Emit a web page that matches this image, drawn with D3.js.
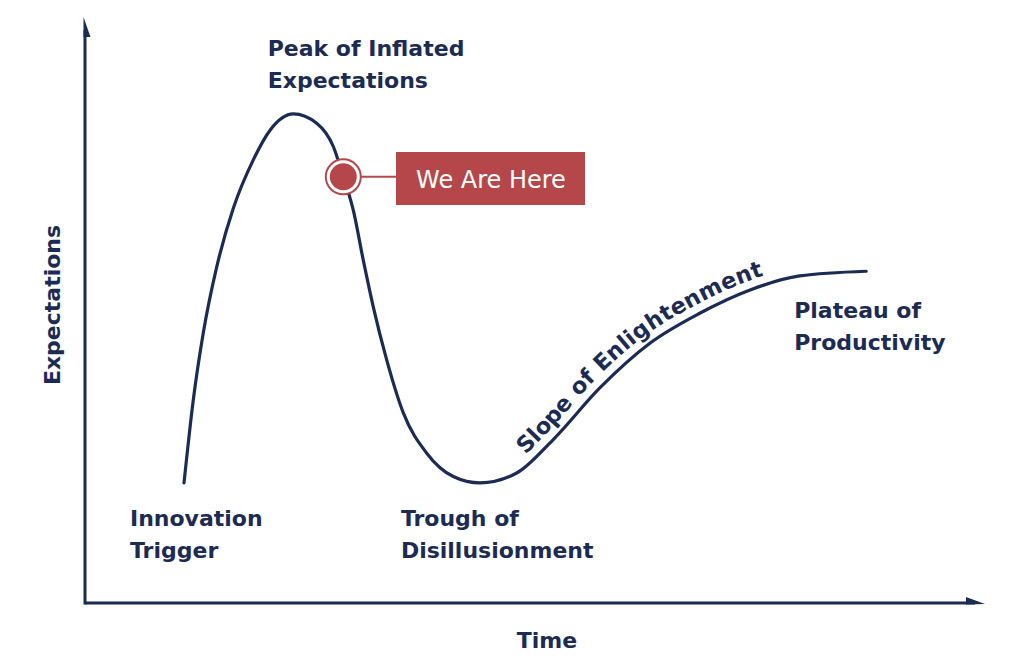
<!DOCTYPE html>
<html><head><meta charset="utf-8">
<script src="https://cdn.jsdelivr.net/npm/d3@7"></script>
<style>
html,body{margin:0;padding:0;background:#fff;}
svg{display:block;}
.lbl{font-family:"DejaVu Sans", sans-serif;font-weight:bold;fill:#1c2b53;}
</style></head><body>
<script>
// Hype-cycle curve: time (0-100) vs expectations (0-100)
const curveTime = [11.0, 12.03, 13.14, 14.63, 16.48, 18.70, 20.56, 23.14, 25.74, 27.59, 28.70, 29.81, 30.92, 32.03, 33.52, 35.37, 37.97, 40.92, 43.89, 47.97, 52.0, 57.2, 62.8, 68.3, 73.9, 79.4, 86.8];
const curveExp  = [20.6, 34.8, 46.3, 57.6, 67.7, 76.0, 81.1, 83.9, 82.3, 78.3, 73.1, 67.4, 58.8, 50.8, 41.7, 32.6, 25.7, 21.7, 20.6, 22.3, 28.0, 36.9, 44.6, 49.7, 53.7, 56.1, 56.9];
const markerTime = 28.7, markerExp = 73.1;
const markerLabel = "We Are Here";
const phaseLabels = [
  {lines:["Peak of Inflated","Expectations"], t:20.3, e:93.8},
  {lines:["Innovation","Trigger"], t:5.0, e:13.2},
  {lines:["Trough of","Disillusionment"], t:35.1, e:13.2},
  {lines:["Plateau of","Productivity"], t:78.8, e:48.8}
];
const slopeLabel = "Slope of Enlightenment";
const xTitle = "Time", yTitle = "Expectations";

const W = 1024, H = 666;
const navy = "#1c2b53", red = "#b5474a";
const svg = d3.select("body").append("svg").attr("width", W).attr("height", H);

const x = d3.scaleLinear().domain([0,100]).range([85,985]);
const y = d3.scaleLinear().domain([0,100]).range([603,20]);

// axes
svg.append("line").attr("x1",x(0)).attr("x2",x(100)-10).attr("y1",y(0)).attr("y2",y(0))
  .attr("stroke",navy).attr("stroke-width",3);
svg.append("line").attr("x1",x(0)).attr("x2",x(0)).attr("y1",y(0)+1.5).attr("y2",y(100)+10)
  .attr("stroke",navy).attr("stroke-width",3);
// half arrowheads
svg.append("path").attr("fill",navy)
  .attr("d",`M${x(100)},${y(0)+1} L${x(100)-19},${y(0)-6} L${x(100)-19},${y(0)+1.5} Z`);
svg.append("path").attr("fill",navy)
  .attr("d",`M${x(0)-1.5},${y(100)-3} L${x(0)+5.5},${y(100)+17} L${x(0)-1.5},${y(100)+17} Z`);

// curve
const pts = curveTime.map((t,i)=>[t,curveExp[i]]);
const line = d3.line().x(d=>x(d[0])).y(d=>y(d[1])).curve(d3.curveMonotoneX);
const path = svg.append("path").attr("id","hype").attr("d",line(pts))
  .attr("fill","none").attr("stroke",navy).attr("stroke-width",3.2).attr("stroke-linecap","round");

// slope label along the curve
const node = path.node();
const total = node.getTotalLength();
let startLen = 0;
for (let l=0; l<total; l+=1){ const p=node.getPointAtLength(l); if (p.x>=532 && p.y>420){ startLen=l; break; } }
svg.append("text").attr("class","lbl").attr("font-size",22.5).attr("dy",-9)
  .append("textPath").attr("href","#hype").attr("startOffset",startLen).text(slopeLabel);

// marker
const mx = x(markerTime), my = y(markerExp);
svg.append("line").attr("x1",mx+17).attr("x2",396).attr("y1",my).attr("y2",my)
  .attr("stroke",red).attr("stroke-width",2);
svg.append("circle").attr("cx",mx).attr("cy",my).attr("r",17.5).attr("fill","#fff").attr("stroke",red).attr("stroke-width",2);
svg.append("circle").attr("cx",mx).attr("cy",my).attr("r",13.5).attr("fill",red);
svg.append("rect").attr("x",396).attr("y",152).attr("width",189).attr("height",53).attr("fill",red);
svg.append("text").attr("x",491).attr("y",188).attr("text-anchor","middle")
  .attr("font-family","'DejaVu Sans', sans-serif").attr("font-size",24).attr("fill","#fff").text(markerLabel);

// phase labels
phaseLabels.forEach(d=>{
  const t = svg.append("text").attr("class","lbl").attr("font-size",22)
    .attr("x",x(d.t)).attr("y",y(d.e));
  d.lines.forEach((s,i)=>t.append("tspan").attr("x",x(d.t)).attr("dy",i?32:0).text(s));
});

// axis titles
svg.append("text").attr("class","lbl").attr("font-size",22).attr("text-anchor","middle")
  .attr("x",547).attr("y",648).text(xTitle);
svg.append("text").attr("class","lbl").attr("font-size",22).attr("text-anchor","middle")
  .attr("transform","translate(60,305) rotate(-90)").text(yTitle);
</script>
</body></html>
